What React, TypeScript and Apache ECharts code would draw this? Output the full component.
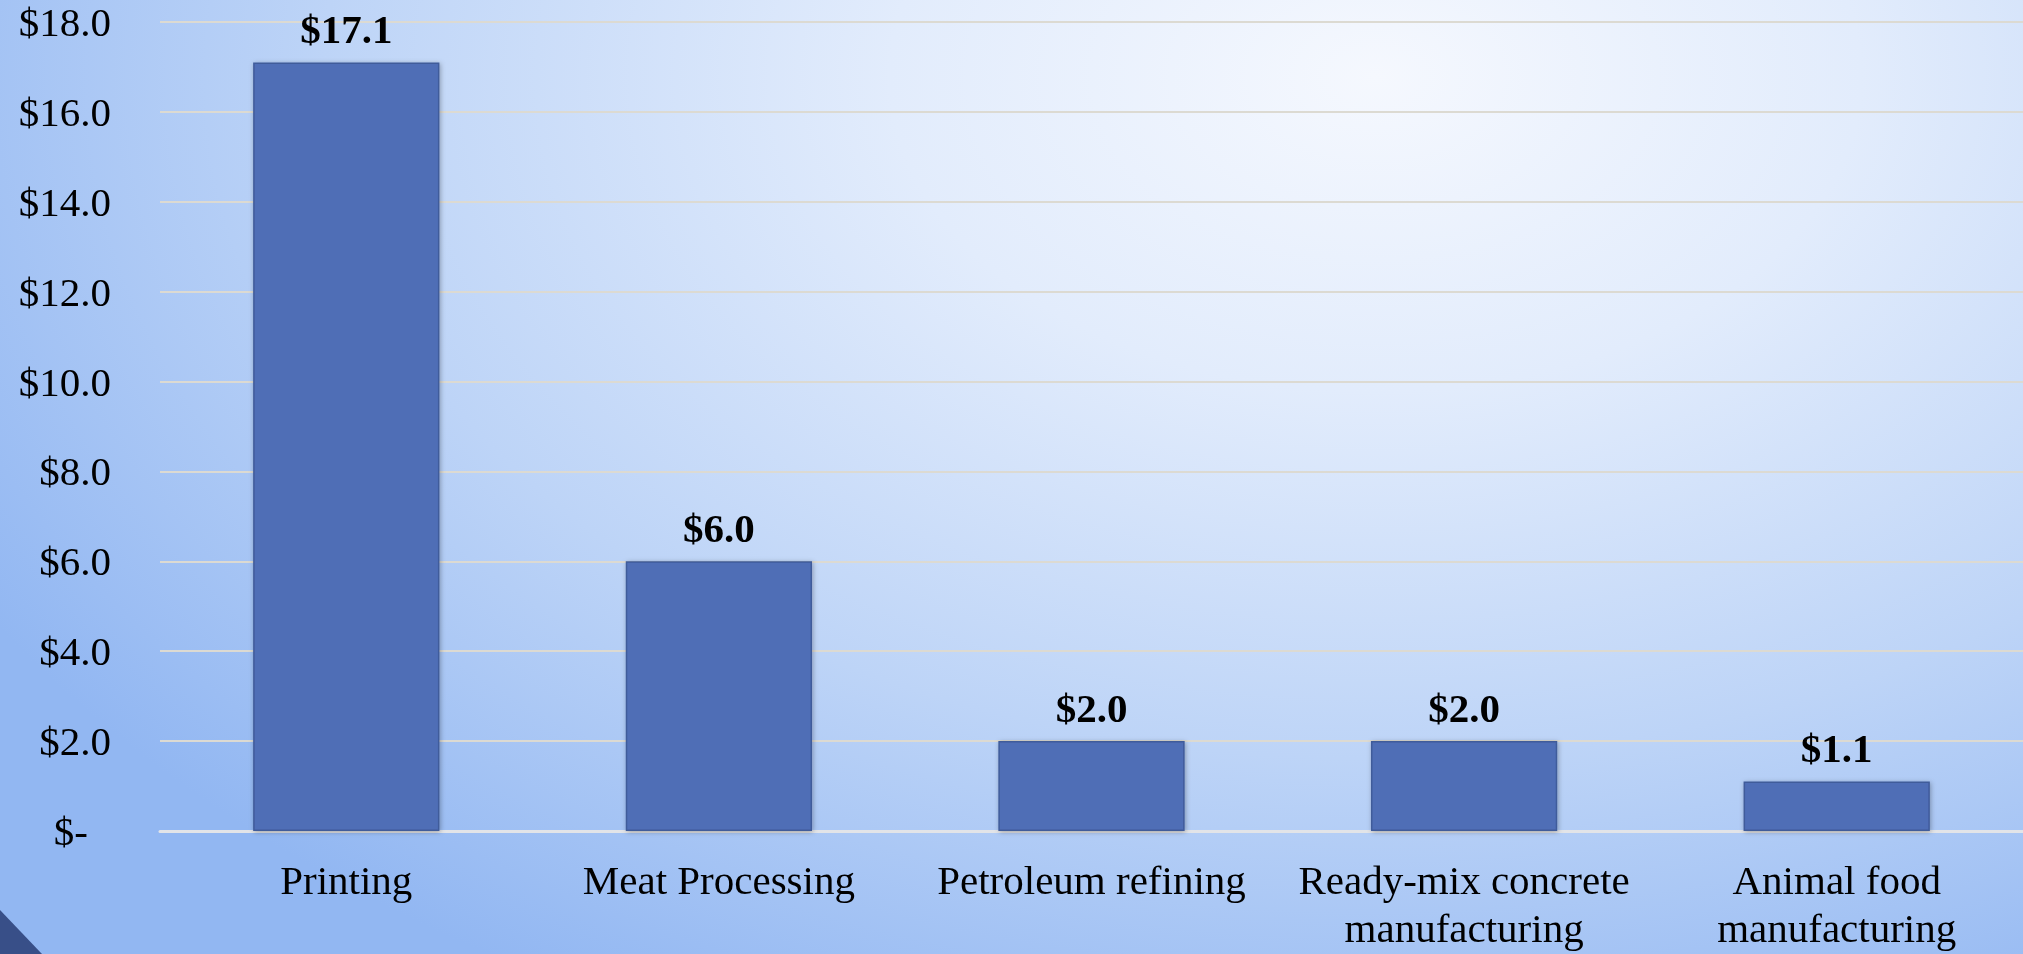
import React, { useEffect, useRef } from "react";
import * as echarts from "echarts";

const categories = [
  "Printing",
  "Meat Processing",
  "Petroleum refining",
  "Ready-mix concrete\nmanufacturing",
  "Animal food\nmanufacturing",
];
const values = [17.1, 6.0, 2.0, 2.0, 1.1];
const yMin = 0;
const yMax = 18;
const yInterval = 2;

export default function App() {
  const ref = useRef<HTMLDivElement>(null);
  useEffect(() => {
    if (!ref.current) return;
    const chart = echarts.init(ref.current, null, { renderer: "svg" });
    const font = "'Liberation Serif', 'Times New Roman', serif";
    chart.setOption({
      animation: false,
      backgroundColor: "transparent",
      grid: { left: 160, right: 0, top: 22, bottom: 123, containLabel: false },
      graphic: [
        {
          type: "polygon",
          shape: { points: [[0, 910], [42, 954], [0, 954]] },
          style: { fill: "#384f88" },
          silent: true,
        },
      ],
      xAxis: {
        type: "category",
        data: categories,
        axisTick: { show: false },
        axisLine: { show: true, lineStyle: { color: "#e2e4e8", width: 3 } },
        axisLabel: {
          interval: 0,
          color: "#000",
          fontFamily: font,
          fontSize: 41,
          lineHeight: 48,
          margin: 25,
        },
      },
      yAxis: {
        type: "value",
        min: yMin,
        max: yMax,
        interval: yInterval,
        axisLine: { show: false },
        axisTick: { show: false },
        splitLine: { lineStyle: { color: "#dcdad2", width: 2 } },
        axisLabel: {
          color: "#000",
          fontFamily: font,
          fontSize: 41,
          margin: 49,
          formatter: (v: number) =>
            v === 0 ? "{z|$-}" : "$" + v.toFixed(1),
          rich: {
            z: {
              color: "#000",
              fontFamily: font,
              fontSize: 41,
              padding: [0, 23, 0, 0],
            },
          },
        },
      },
      series: [
        {
          type: "bar",
          data: values,
          barWidth: "50%",
          itemStyle: {
            color: "#4f6eb6",
            borderColor: "#3f5b9a",
            borderWidth: 1.5,
            shadowBlur: 5,
            shadowColor: "rgba(0,0,0,0.3)",
            shadowOffsetX: 1,
            shadowOffsetY: 1,
          },
          label: {
            show: true,
            position: "top",
            distance: 13,
            color: "#000",
            fontFamily: font,
            fontWeight: "bold",
            fontSize: 41,
            formatter: (p: any) => "$" + Number(p.value).toFixed(1),
          },
        },
      ],
    });
    return () => chart.dispose();
  }, []);
  return (
    <div
      style={{
        position: "fixed",
        left: 0,
        top: 0,
        width: 2023,
        height: 954,
        background:
          "radial-gradient(ellipse 80% 110% at 68% 8%, #f5f8fe 0%, #e2ecfc 30%, #bdd4f7 65%, #92b7f2 100%)",
      }}
    >
      <div ref={ref} style={{ width: 2023, height: 954 }} />
    </div>
  );
}
